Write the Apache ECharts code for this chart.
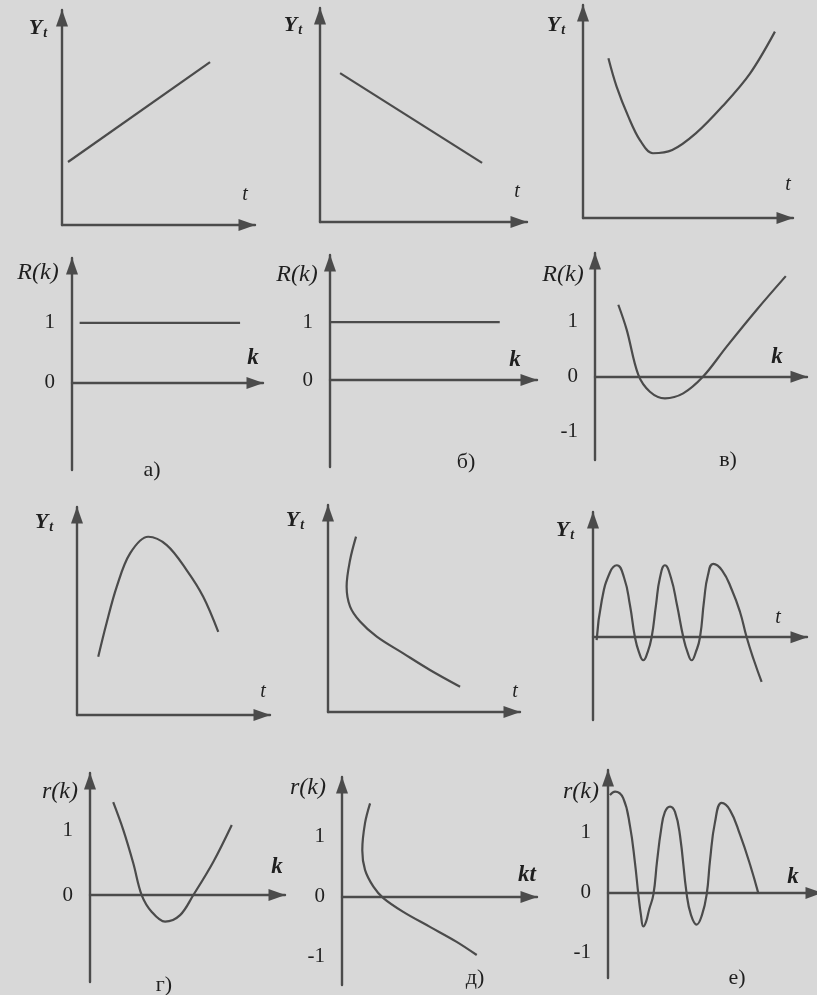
<!DOCTYPE html>
<html><head><meta charset="utf-8">
<script src="https://cdn.jsdelivr.net/npm/echarts@6/dist/echarts.min.js"></script>
<style>html,body{margin:0;padding:0;background:#d8d8d8}#c{width:817px;height:995px}</style>
</head><body><div id="c"></div>
<script>
// ---- data ----
// row 1: time series Y_t
const upTrendT = [0.31, 7.67];
const upTrendY = [2.93, 7.58];
const downTrendT = [0.97, 7.83];
const downTrendY = [6.96, 2.76];
const uShapeT = [1.21, 1.60, 2.16, 2.71, 3.33, 4.25, 5.37, 6.63, 7.95, 9.14];
const uShapeY = [7.50, 6.17, 4.76, 3.66, 3.04, 3.19, 3.97, 5.23, 6.78, 8.75];
// row 2: autocorrelation R(k)
const acfLagA = [0.4, 8.8];
const acfA = [1, 1];
const acfLagB = [0, 8.2];
const acfB = [1, 1];
const acfLagC = [1.10, 1.50, 2.04, 2.59, 3.30, 4.16, 5.11, 6.21, 7.63, 9.00];
const acfC = [1.31, 0.85, 0.04, -0.27, -0.39, -0.30, 0.01, 0.55, 1.22, 1.83];
// row 3: time series Y_t
const humpT = [1.10, 1.53, 2.06, 2.75, 3.69, 4.65, 5.68, 6.54, 7.32];
const humpY = [2.80, 4.41, 6.17, 7.77, 8.57, 8.17, 6.97, 5.69, 4.00];
const decayT = [1.46, 1.15, 0.97, 1.15, 1.67, 2.54, 3.92, 5.31, 6.88];
const decayY = [8.47, 7.34, 6.06, 5.09, 4.37, 3.64, 2.83, 2.03, 1.22];
const waveT = [0.17, 0.41, 0.79, 1.11, 1.45, 1.73, 1.96, 2.15, 2.35, 2.55, 2.74, 2.94, 3.13, 3.36, 3.64, 3.93, 4.22, 4.42, 4.61, 4.80, 5.00, 5.19, 5.37, 5.62, 6.03, 6.50, 6.87, 7.18, 7.52, 7.88];
const waveY = [-0.04, 0.51, 0.90, 1.00, 0.83, 0.44, 0, -0.21, -0.32, -0.21, 0, 0.44, 0.83, 1.00, 0.83, 0.44, 0, -0.21, -0.32, -0.21, 0, 0.51, 0.86, 1.02, 0.93, 0.65, 0.35, 0, -0.32, -0.62];
// row 4: autocorrelation r(k)
const acfLagD = [1.19, 1.71, 2.22, 2.65, 3.17, 3.85, 4.62, 5.30, 6.32, 7.27];
const acfD = [1.43, 1.00, 0.49, 0, -0.26, -0.41, -0.31, 0, 0.51, 1.08];
const acfLagE = [1.44, 1.18, 1.04, 1.18, 1.61, 2.12, 3.14, 4.51, 5.88, 6.91];
const acfE = [1.56, 1.23, 0.78, 0.45, 0.17, -0.02, -0.25, -0.50, -0.75, -0.97];
const acfLagF = [0.09, 0.33, 0.71, 1.03, 1.26, 1.42, 1.54, 1.65, 1.78, 1.92, 2.12, 2.29, 2.48, 2.66, 2.90, 3.13, 3.36, 3.68, 3.88, 4.14, 4.39, 4.61, 4.77, 5.00, 5.31, 5.70, 6.17, 6.64, 7.02];
const acfF = [1.63, 1.69, 1.58, 1.11, 0.50, -0.03, -0.37, -0.56, -0.48, -0.28, -0.03, 0.52, 1.05, 1.35, 1.44, 1.35, 0.97, -0.03, -0.37, -0.53, -0.37, -0.03, 0.55, 1.18, 1.50, 1.38, 0.97, 0.47, 0];
// tick labels
const ticksPos = [0, 1];
const ticksFull = [-1, 0, 1];

// ---- layout / style ----
const INK = '#4b4b4b';
const TXT = '#1f1f1f';
const SERIF = '"Liberation Serif","DejaVu Serif",serif';
const zip = (a, b) => a.map((v, i) => [v, b[i]]);

const panels = [
  {g: [62, 10, 193, 215], y: [0, 10], s: [[upTrendT, upTrendY]]},
  {g: [320, 8, 207, 214], y: [0, 10], s: [[downTrendT, downTrendY]]},
  {g: [583, 5, 210, 213], y: [0, 10], s: [[uShapeT, uShapeY]]},
  {g: [72, 258, 191, 212], y: [-1.45, 2.08], t: ticksPos, s: [[acfLagA, acfA]]},
  {g: [330, 255, 207, 212], y: [-1.5, 2.16], t: ticksPos, s: [[acfLagB, acfB]]},
  {g: [595, 253, 212, 207], y: [-1.51, 2.25], t: ticksFull, s: [[acfLagC, acfC]]},
  {g: [77, 507, 193, 208], y: [0, 10], s: [[humpT, humpY]]},
  {g: [328, 505, 192, 207], y: [0, 10], s: [[decayT, decayY]]},
  {g: [593, 512, 214, 208], y: [-1.15, 1.74], s: [[waveT, waveY]], sm: 0.5},
  {g: [90, 773, 195, 209], y: [-1.34, 1.88], t: ticksPos, s: [[acfLagD, acfD]]},
  {g: [342, 777, 195, 208], y: [-1.47, 2.0], t: ticksFull, s: [[acfLagE, acfE]]},
  {g: [608, 770, 214, 208], y: [-1.42, 2.05], t: ticksFull, s: [[acfLagF, acfF]], sm: 0.45}
];

const axisLine = {
  show: true, onZero: true,
  symbol: ['none', 'triangle'], symbolSize: [12, 17], symbolOffset: [0, -8],
  lineStyle: {color: INK, width: 2.4}
};

const grid = [], xAxis = [], yAxis = [], series = [];
panels.forEach((p, i) => {
  grid.push({left: p.g[0], top: p.g[1], width: p.g[2], height: p.g[3], containLabel: false, outerBoundsMode: 'none'});
  xAxis.push({type: 'value', gridIndex: i, min: 0, max: 10, axisLine: axisLine,
    axisTick: {show: false}, axisLabel: {show: false}, splitLine: {show: false}});
  yAxis.push({type: 'value', gridIndex: i, min: p.y[0], max: p.y[1], axisLine: axisLine,
    axisTick: {show: false}, splitLine: {show: false},
    axisLabel: p.t ? {show: true, customValues: p.t, margin: 17, color: TXT,
      fontFamily: SERIF, fontSize: 21} : {show: false}});
  p.s.forEach(d => series.push({type: 'line', xAxisIndex: i, yAxisIndex: i,
    data: zip(d[0], d[1]), smooth: p.sm || 0.35, showSymbol: false, silent: true,
    lineStyle: {color: INK, width: 2.2}}));
});

const txt = (x, y, text, opt) => ({type: 'text', x: x, y: y, silent: true, style: Object.assign({
  text: text, fill: TXT, textAlign: 'center', textVerticalAlign: 'middle',
  font: 'italic 22px ' + SERIF}, opt || {})});
const yt = (x, y) => txt(x, y, '{a|Y}{b|t}', {rich: {
  a: {fontFamily: SERIF, fontStyle: 'italic', fontWeight: 'bold', fontSize: 22, fill: TXT},
  b: {fontFamily: SERIF, fontStyle: 'italic', fontWeight: 'bold', fontSize: 14, fill: TXT, padding: [10, 0, 0, 1]}}});
const nm = (x, y, t) => txt(x, y, t, {font: 'italic 24px ' + SERIF});
const kk = (x, y, t) => txt(x, y, t, {font: 'italic bold 23px ' + SERIF});
const tt = (x, y) => txt(x, y, 't', {font: 'italic 20px ' + SERIF});
const lt = (x, y, t) => txt(x, y, t, {font: '22px ' + SERIF});

const graphic = [
  yt(38, 28), yt(293, 25), yt(556, 25), yt(44, 522), yt(295, 520), yt(565, 530),
  tt(245, 195), tt(517, 192), tt(788, 185), tt(263, 692), tt(515, 692), tt(778, 618),
  nm(38, 273, 'R(k)'), nm(297, 275, 'R(k)'), nm(563, 275, 'R(k)'),
  nm(60, 792, 'r(k)'), nm(308, 788, 'r(k)'), nm(581, 792, 'r(k)'),
  kk(253, 358, 'k'), kk(515, 360, 'k'), kk(777, 357, 'k'),
  kk(277, 867, 'k'), kk(527, 875, 'kt'), kk(793, 877, 'k'),
  lt(152, 470, 'а)'), lt(466, 462, 'б)'), lt(728, 460, 'в)'),
  lt(164, 985, 'г)'), lt(475, 978, 'д)'), lt(737, 978, 'е)')
];

const chart = echarts.init(document.getElementById('c'), null, {renderer: 'canvas'});
chart.setOption({backgroundColor: '#d8d8d8', animation: false, grid, xAxis, yAxis, series, graphic});
</script></body></html>
